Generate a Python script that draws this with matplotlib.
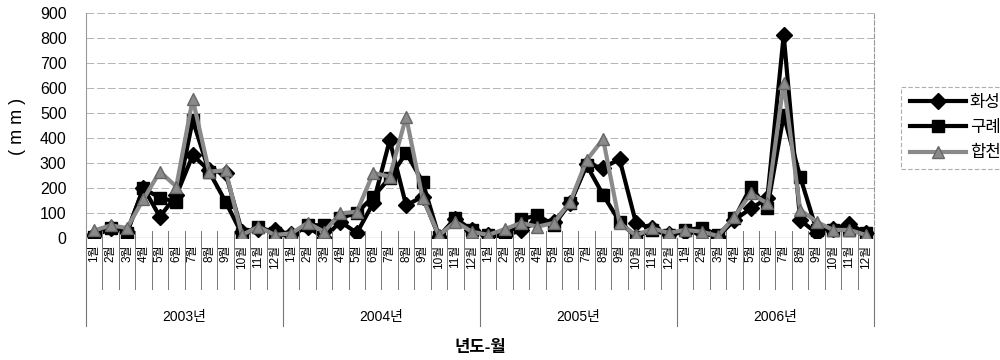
import numpy as np
import matplotlib
matplotlib.use("Agg")
import matplotlib.pyplot as plt

plt.rcParams["font.family"] = ["Liberation Sans", "Noto Sans CJK KR", "DejaVu Sans"]

years = ["2003년", "2004년", "2005년", "2006년"]
months = [f"{m}월" for m in range(1, 13)]

# monthly rainfall (mm), Jan 2003 - Dec 2006
hwaseong = [10, 40, 25, 200, 85, 170, 330, 270, 260, 25, 35, 30,
            15, 45, 0, 65, 20, 140, 390, 130, 165, 5, 75, 30,
            10, 10, 30, 65, 65, 140, 295, 280, 315, 60, 38, 15,
            25, 20, 5, 72, 118, 158, 810, 72, 19, 37, 55, 20]
gurye = [5, 40, 20, 198, 160, 145, 470, 265, 145, 15, 45, 19,
         5, 52, 50, 80, 100, 165, 240, 340, 225, 5, 80, 30,
         12, 0, 75, 90, 52, 140, 290, 172, 65, 5, 32, 12,
         32, 40, 12, 78, 205, 118, 490, 245, 32, 32, 32, 19]
hapcheon = [30, 50, 40, 155, 265, 205, 555, 265, 270, 12, 45, 12,
            18, 60, 25, 98, 105, 260, 245, 484, 160, 10, 65, 25,
            12, 35, 60, 45, 60, 145, 311, 395, 60, 10, 38, 20,
            32, 25, 8, 85, 178, 138, 620, 112, 65, 32, 32, 12]

series = [("화성", hwaseong, "D", "black", "black", 8.5),
          ("구례", gurye, "s", "black", "black", 8.5),
          ("합천", hapcheon, "^", "#8a8a8a", "#666666", 9)]

n = len(hwaseong)
x = np.arange(n)

fig = plt.figure(figsize=(10, 3.6), dpi=100)
ax = fig.add_axes([0.086, 0.339, 0.788, 0.626])

for label, values, marker, color, edge, msize in series:
    ax.plot(x, values, color=color, linewidth=3, marker=marker,
            markersize=msize, markerfacecolor=color,
            markeredgecolor=edge, label=label)

ax.set_xlim(-0.5, n - 0.5)
ax.set_ylim(0, 900)
ax.set_yticks(range(0, 901, 100))
ax.tick_params(axis="y", length=0, labelsize=11.5, pad=14)
ax.yaxis.grid(True, color="#b4b4b4", linestyle=(0, (8, 3)), linewidth=0.7)
ax.set_axisbelow(True)

for side in ["top", "bottom"]:
    ax.spines[side].set_visible(False)
ax.spines["left"].set_color("#999999")
ax.spines["right"].set_color("#999999")
ax.spines["right"].set_linestyle((0, (4, 2)))
ax.axhline(0, color="#888888", linewidth=0.9, zorder=1)

# two-level category axis: months, then years
ax.set_xticks(x)
ax.set_xticklabels(months * len(years), rotation=90, fontsize=8.5, va="top")
ax.tick_params(axis="x", length=0, pad=5)

trans = ax.get_xaxis_transform()
for i in range(n + 1):
    edge_x = i - 0.5
    if i % 12 == 0:
        ax.plot([edge_x, edge_x], [0, -0.39], transform=trans, color="#777777",
                linewidth=0.8, clip_on=False)
    else:
        ax.plot([edge_x, edge_x], [0.03, -0.225], transform=trans, color="#777777",
                linewidth=0.7, clip_on=False)

for k, yr in enumerate(years):
    ax.text(k * 12 + 5.5, -0.35, yr, transform=trans, ha="center", va="center",
            fontsize=10)

fig.text(0.48, 0.035, "년도-월", ha="center", va="center", fontsize=12,
         fontweight="bold")
fig.text(0.018, 0.65, "( m m )", rotation=90, ha="center", va="center", fontsize=13)

leg = ax.legend(loc="center left", bbox_to_anchor=(0.893, 0.645),
                bbox_transform=fig.transFigure, frameon=True, fontsize=12,
                handlelength=3.4, borderpad=0.5, labelspacing=0.6,
                handletextpad=0.2, fancybox=False)
leg.get_frame().set_edgecolor("#999999")
leg.get_frame().set_linestyle((0, (4, 2)))
leg.get_frame().set_linewidth(0.8)

fig.savefig("out.png", dpi=100)
